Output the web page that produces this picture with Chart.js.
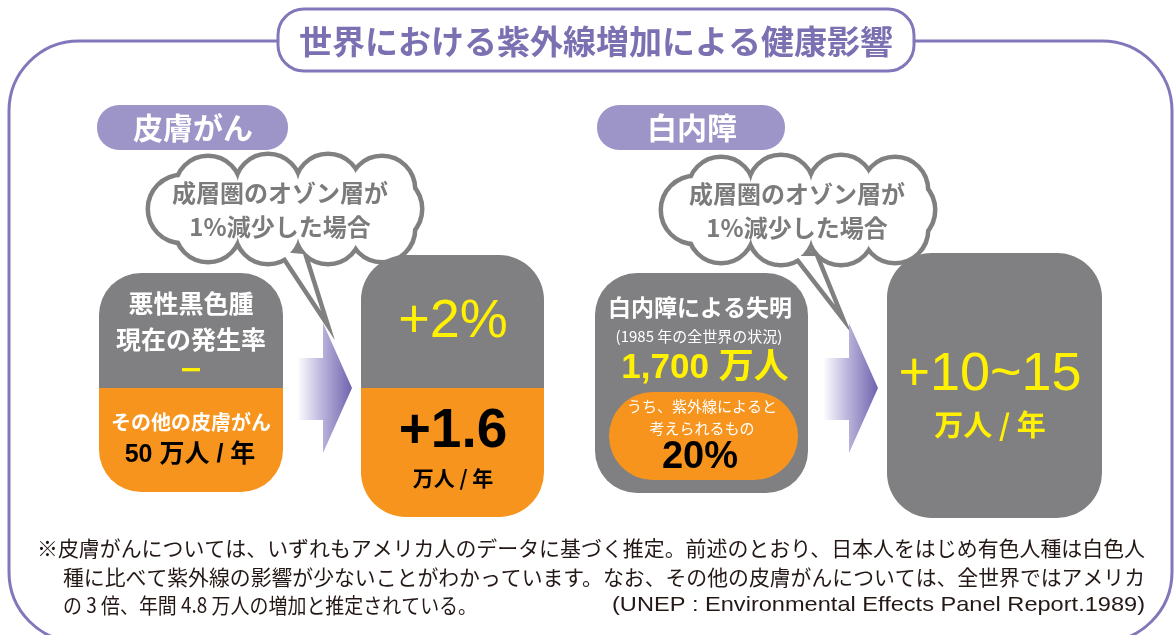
<!DOCTYPE html>
<html><head><meta charset="utf-8">
<script src="https://cdn.jsdelivr.net/npm/chart.js@4.4.1/dist/chart.umd.min.js"></script>
<style>html,body{margin:0;padding:0;background:#fff;overflow:hidden}#c{display:block}</style>
</head><body>
<canvas id="c" width="1175" height="635"></canvas>
<script>
// ---- data (texts and values) ----
const title = '世界における紫外線増加による健康影響';
const categories = ['皮膚がん', '白内障'];
const conditionLines = ['成層圏のオゾン層が', '1%減少した場合'];
const melanomaLines = ['悪性黒色腫', '現在の発生率'];
const melanomaCurrent = 'ー';
const melanomaIncrease = '+2%';
const otherSkinLabel = 'その他の皮膚がん';
const otherSkinCurrent = ['50', '万人 / 年'];
const otherSkinIncrease = ['+1.6', '万人 / 年'];
const cataractLabel = '白内障による失明';
const cataractNote = '(1985 年の全世界の状況)';
const cataractCurrent = ['1,700', '万人'];
const uvShareLabel = ['うち、紫外線によると', '考えられるもの'];
const uvShare = '20%';
const cataractIncrease = ['+10~15', '万人 / 年'];
const footnotes = [
  '※皮膚がんについては、いずれもアメリカ人のデータに基づく推定。前述のとおり、日本人をはじめ有色人種は白色人',
  '種に比べて紫外線の影響が少ないことがわかっています。なお、その他の皮膚がんについては、全世界ではアメリカ',
  'の 3 倍、年間 4.8 万人の増加と推定されている。'
];
const sourceNote = '(UNEP : Environmental Effects Panel Report.1989)';

// ---- styles ----
const C = {
  purple: '#8177ba', pill: '#9d94c8', titleText: '#7b71b2',
  grey: '#808082', orange: '#f7941d', yellow: '#fff100',
  bubble: '#808080', bubbleText: '#7b7b7b', note: '#231815'
};
const JP = '"Noto Sans CJK JP", "Noto Sans", sans-serif';
const NUM = '"Liberation Sans", "Noto Sans CJK JP", sans-serif';

function rr(ctx, x, y, w, h, r) {
  ctx.beginPath();
  ctx.moveTo(x + r, y);
  ctx.lineTo(x + w - r, y);
  ctx.arcTo(x + w, y, x + w, y + r, r);
  ctx.lineTo(x + w, y + h - r);
  ctx.arcTo(x + w, y + h, x + w - r, y + h, r);
  ctx.lineTo(x + r, y + h);
  ctx.arcTo(x, y + h, x, y + h - r, r);
  ctx.lineTo(x, y + r);
  ctx.arcTo(x, y, x + r, y, r);
  ctx.closePath();
}
function txt(ctx, s, x, y, font, color, align) {
  ctx.font = font; ctx.fillStyle = color;
  ctx.textAlign = align || 'center'; ctx.textBaseline = 'middle';
  ctx.fillText(s, x, y);
}
function fitText(ctx, s, x, y, width, font, color) {
  ctx.font = font; ctx.fillStyle = color;
  ctx.textAlign = 'left'; ctx.textBaseline = 'middle';
  const w = ctx.measureText(s).width;
  ctx.save(); ctx.translate(x, y); ctx.scale(width / w, 1);
  ctx.fillText(s, 0, 0); ctx.restore();
}
function cloud(ctx, ox, oy, tail, lines, tx) {
  const circles = [];
  [[58, 31, 31], [118, 29, 31], [178, 29, 31], [232, 31, 31],
   [58, 71, 31], [118, 73, 31], [178, 73, 31], [232, 71, 31],
   [32, 51, 32], [238, 51, 32]].forEach(c => circles.push([ox + c[0], oy + c[1], c[2]]));
  const path = () => {
    ctx.beginPath();
    ctx.moveTo(tail[0][0], tail[0][1]);
    ctx.lineTo(tail[1][0], tail[1][1]);
    ctx.lineTo(tail[2][0], tail[2][1]);
    ctx.closePath();
  };
  ctx.strokeStyle = C.bubble; ctx.lineWidth = 9; ctx.lineJoin = 'miter';
  circles.forEach(c => { ctx.beginPath(); ctx.arc(c[0], c[1], c[2], 0, Math.PI * 2); ctx.stroke(); });
  path(); ctx.stroke();
  ctx.fillStyle = '#fff';
  circles.forEach(c => { ctx.beginPath(); ctx.arc(c[0], c[1], c[2], 0, Math.PI * 2); ctx.fill(); });
  ctx.fillRect(ox + 32, oy + 25, 206, 52);
  path(); ctx.fill();
  txt(ctx, lines[0], tx, oy + 35, 'bold 24px ' + JP, C.bubbleText);
  txt(ctx, lines[1], tx, oy + 69, 'bold 24px ' + JP, C.bubbleText);
}
function arrow(ctx, x0) {
  const g = ctx.createLinearGradient(x0, 0, x0 + 55, 0);
  g.addColorStop(0, 'rgba(255,255,255,1)');
  g.addColorStop(0.45, '#bbb5dc');
  g.addColorStop(1, '#6e63ad');
  ctx.fillStyle = g;
  ctx.beginPath();
  ctx.moveTo(x0, 358); ctx.lineTo(x0 + 26, 358); ctx.lineTo(x0 + 26, 323);
  ctx.lineTo(x0 + 55, 388); ctx.lineTo(x0 + 26, 453); ctx.lineTo(x0 + 26, 420);
  ctx.lineTo(x0, 420); ctx.closePath(); ctx.fill();
}
function splitBox(ctx, x, y, w, h, r, split) {
  ctx.save(); rr(ctx, x, y, w, h, r); ctx.clip();
  ctx.fillStyle = C.grey; ctx.fillRect(x, y, w, split - y);
  ctx.fillStyle = C.orange; ctx.fillRect(x, split, w, y + h - split);
  ctx.restore();
}

const infographic = {
  id: 'infographic',
  afterDraw(chart) {
    const ctx = chart.ctx;
    ctx.save();
    // outer frame
    ctx.strokeStyle = C.purple; ctx.lineWidth = 3;
    rr(ctx, 9, 41, 1163, 601, 70); ctx.stroke();
    // title pill
    rr(ctx, 278, 9, 636, 62, 26);
    ctx.fillStyle = '#fff'; ctx.fill(); ctx.stroke();
    txt(ctx, title, 596, 41, 'bold 33px ' + JP, C.titleText);
    // section pills
    ctx.fillStyle = C.pill; rr(ctx, 97, 105, 191, 45, 22); ctx.fill();
    txt(ctx, categories[0], 193, 128, 'bold 30px ' + JP, '#fff');
    ctx.fillStyle = C.pill; rr(ctx, 597, 105, 188, 45, 22); ctx.fill();
    txt(ctx, categories[1], 692, 128, 'bold 30px ' + JP, '#fff');
    // bubbles
    cloud(ctx, 150, 158, [[282, 252], [321, 311], [303, 254]], conditionLines, 280);
    cloud(ctx, 663, 159, [[797, 256], [835, 305], [815, 256]], conditionLines, 797);
    // arrows
    arrow(ctx, 297);
    arrow(ctx, 823);
    // box 1: current skin cancer
    splitBox(ctx, 99, 273, 184, 219, 42, 388);
    txt(ctx, melanomaLines[0], 191, 303, 'bold 25px ' + JP, '#fff');
    txt(ctx, melanomaLines[1], 191, 339, 'bold 25px ' + JP, '#fff');
    txt(ctx, melanomaCurrent, 191, 370, 'bold 22px ' + JP, C.yellow);
    txt(ctx, otherSkinLabel, 191, 422, 'bold 20px ' + JP, '#fff');
    txt(ctx, otherSkinCurrent.join(' '), 190, 455, 'bold 25px ' + NUM, '#000');
    // box 2: increase skin cancer
    splitBox(ctx, 361, 255, 183, 262, 45, 388);
    txt(ctx, melanomaIncrease, 453, 322, '54px ' + NUM, C.yellow);
    txt(ctx, otherSkinIncrease[0], 453, 432, 'bold 55px ' + NUM, '#000');
    txt(ctx, otherSkinIncrease[1], 453, 478, 'bold 21px ' + JP, '#000');
    // box 3: cataract current
    ctx.fillStyle = C.grey; rr(ctx, 595, 273, 213, 220, 42); ctx.fill();
    ctx.fillStyle = C.orange; rr(ctx, 609, 392, 189, 88, 44); ctx.fill();
    txt(ctx, cataractLabel, 700, 307, 'bold 23px ' + JP, '#fff');
    txt(ctx, cataractNote, 699, 336, '15px ' + JP, '#fff');
    txt(ctx, cataractCurrent.join(' '), 705, 368, 'bold 35px ' + NUM, C.yellow);
    txt(ctx, uvShareLabel[0], 702, 406, '15px ' + JP, '#fff');
    txt(ctx, uvShareLabel[1], 702, 428, '15px ' + JP, '#fff');
    txt(ctx, uvShare, 700, 458, 'bold 38px ' + NUM, '#000');
    // box 4: cataract increase
    ctx.fillStyle = C.grey; rr(ctx, 887, 253, 215, 265, 45); ctx.fill();
    txt(ctx, cataractIncrease[0], 990, 375, '54px ' + NUM, C.yellow);
    txt(ctx, cataractIncrease[1], 990, 425, 'bold 29px ' + JP, C.yellow);
    // footnotes
    fitText(ctx, footnotes[0], 37, 548, 1108, '21px ' + JP, C.note);
    fitText(ctx, footnotes[1], 63, 577, 1082, '21px ' + JP, C.note);
    fitText(ctx, footnotes[2], 63, 605, 414, '21px ' + JP, C.note);
    fitText(ctx, sourceNote, 612, 605, 533, '21px ' + NUM, C.note);
    ctx.restore();
  }
};

new Chart(document.getElementById('c').getContext('2d'), {
  type: 'bar',
  data: { labels: categories, datasets: [] },
  options: {
    responsive: false, animation: false, events: [],
    layout: { padding: 0 },
    plugins: { legend: { display: false }, tooltip: { enabled: false }, title: { display: false } },
    scales: { x: { display: false }, y: { display: false } }
  },
  plugins: [infographic]
});
</script>
</body></html>
